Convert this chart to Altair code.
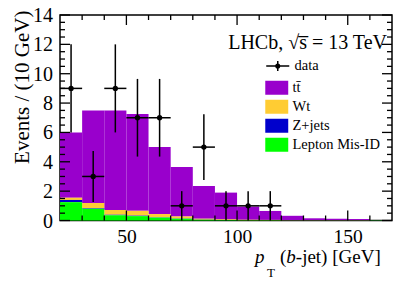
import altair as alt
import pandas as pd

# ---- data ----
bin_lo = [20, 30, 40, 50, 60, 70, 80, 90, 100, 110, 120, 130, 140, 150, 160]
bin_hi = [30, 40, 50, 60, 70, 80, 90, 100, 110, 120, 130, 140, 150, 160, 170]
misid = [1.25, 0.80, 0.35, 0.30, 0.20, 0.12, 0.05, 0.03, 0.02, 0.02, 0.01, 0.01, 0.01, 0.01, 0.02]
zjets = [0.15, 0.04, 0.05, 0.03, 0.02, 0.01, 0.01, 0.01, 0.0, 0.0, 0.0, 0.0, 0.0, 0.0, 0.0]
wt    = [0.15, 0.35, 0.32, 0.33, 0.22, 0.14, 0.06, 0.05, 0.03, 0.02, 0.01, 0.01, 0.01, 0.01, 0.0]
ttbar = [4.45, 6.31, 6.78, 6.59, 4.56, 3.38, 2.23, 1.81, 0.90, 0.61, 0.30, 0.13, 0.10, 0.08, 0.01]

data_x = [25, 35, 45, 55, 65, 75, 85, 95, 105, 115]
data_n = [9, 3, 9, 7, 7, 1, 5, 1, 1, 1]

proc_names = ["tt\u0304", "Wt", "Z+jets", "Lepton Mis-ID"]
proc_colors = ["#9900cc", "#ffcc33", "#0000cc", "#00ff00"]
stack_order = {"Lepton Mis-ID": 0, "Z+jets": 1, "Wt": 2, "tt\u0304": 3}

y_major = [0, 2, 4, 6, 8, 10, 12, 14]
y_minor = [v * 0.5 for v in range(1, 28) if v % 4]
x_major = [50, 100, 150]
x_minor = [v for v in range(30, 170, 10) if v not in x_major]

FONT = "Liberation Serif"
W, H = 332, 205.5
TMAJ, TMIN = 10, 5
YT = "Events / (10 GeV)"

# ---- tables ----
rows = []
for series, vals in zip(proc_names, [ttbar, wt, zjets, misid]):
    for lo, hi, v in zip(bin_lo, bin_hi, vals):
        rows.append({"lo": lo, "hi": hi, "value": v, "proc": series, "order": stack_order[series]})
bkg = pd.DataFrame(rows)
pts = pd.DataFrame({"x": data_x, "n": data_n, "lab": ["data"] * len(data_x)})

xscale = alt.Scale(domain=[20, 170], nice=False, zero=False)
yscale = alt.Scale(domain=[0, 14], nice=False)

rect_path = "M-1.64,-1L1.64,-1L1.64,1L-1.64,1Z"
data_path = ("M-1.92,0L1.92,0M0,-0.83L0,0.83"
             "M-0.3,0A0.3,0.3,0,1,0,0.3,0A0.3,0.3,0,1,0,-0.3,0Z"
             "M-0.12,0A0.12,0.12,0,1,0,0.12,0A0.12,0.12,0,1,0,-0.12,0Z")

bars = alt.Chart(bkg).transform_stack(
    stack="value", groupby=["lo"], as_=["y0", "y1"], sort=[alt.SortField("order", order="ascending")]
).mark_rect().encode(
    x=alt.X("lo:Q", scale=xscale, title=None, axis=alt.Axis(
        values=x_major, title=None, ticks=False, domain=False, grid=False, labelOverlap=False,
        labelFont=FONT, labelFontSize=19.5, labelPadding=7, labelColor="black")),
    x2="hi:Q",
    y=alt.Y("y0:Q", scale=yscale, title=YT, axis=alt.Axis(
        values=y_major, ticks=False, domain=False, grid=False, labels=False,
        title=YT, titleFont=FONT, titleFontSize=21, titleFontWeight="normal",
        titleColor="black", titleAngle=270, titleAlign="right", titleBaseline="middle",
        titleX=-38, titleY=-5)),
    y2="y1:Q",
    color=alt.Color("proc:N", scale=alt.Scale(domain=proc_names, range=proc_colors),
                    legend=alt.Legend(title=None, orient="none", legendX=209.5, legendY=65.5,
                                      symbolType=rect_path, symbolSize=196, symbolStrokeWidth=0,
                                      labelFont=FONT, labelFontSize=14.5, labelColor="black",
                                      labelOffset=8.5, rowPadding=3, padding=0)),
)

# y tick labels drawn through the y scale
ylabels = alt.Chart(pd.DataFrame({"v": y_major})).mark_text(
    font=FONT, fontSize=20, align="right", baseline="middle", color="black", dy=1
).encode(y=alt.Y("v:Q", scale=yscale), x=alt.value(-7), text=alt.Text("v:Q"))

vbars = alt.Chart(pts).transform_calculate(
    lo="datum.n - sqrt(datum.n)", hi="datum.n + sqrt(datum.n)"
).mark_rule(color="black", strokeWidth=1.5).encode(
    x=alt.X("x:Q", scale=xscale),
    y=alt.Y("lo:Q", scale=yscale), y2="hi:Q")

hbars = alt.Chart(pts).transform_calculate(
    xl="datum.x - 5", xh="datum.x + 5"
).mark_rule(color="black", strokeWidth=1.5).encode(
    x=alt.X("xl:Q", scale=xscale), x2="xh:Q",
    y=alt.Y("n:Q", scale=yscale))

dots = alt.Chart(pts).mark_point(filled=True, color="black", size=28, opacity=1).encode(
    x=alt.X("x:Q", scale=xscale),
    y=alt.Y("n:Q", scale=yscale))

# invisible layer that only carries the "data" legend entry
data_key = alt.Chart(pts).mark_point(filled=False, color="black", size=0, strokeWidth=1.5).encode(
    x=alt.X("x:Q", scale=xscale),
    y=alt.Y("n:Q", scale=yscale),
    shape=alt.Shape("lab:N", scale=alt.Scale(domain=["data"], range=[data_path]),
                    legend=alt.Legend(title=None, orient="none", legendX=210.5, legendY=43.7,
                                      symbolSize=144, symbolStrokeColor="black",
                                      symbolStrokeWidth=1.5, symbolOpacity=1,
                                      labelFont=FONT, labelFontSize=14.5, labelColor="black",
                                      labelOffset=9.5, padding=0)))

def ticks_y(vals, length):
    d = pd.DataFrame({"v": vals})
    left = alt.Chart(d).mark_rule(color="black", strokeWidth=1.3).encode(
        y=alt.Y("v:Q", scale=yscale), x=alt.value(0), x2=alt.value(length))
    right = alt.Chart(d).mark_rule(color="black", strokeWidth=1.3).encode(
        y=alt.Y("v:Q", scale=yscale), x=alt.value(W), x2=alt.value(W - length))
    return [left, right]

def ticks_x(vals, length):
    d = pd.DataFrame({"v": vals})
    bottom = alt.Chart(d).mark_rule(color="black", strokeWidth=1.3).encode(
        x=alt.X("v:Q", scale=xscale), y=alt.value(H), y2=alt.value(H - length))
    top = alt.Chart(d).mark_rule(color="black", strokeWidth=1.3).encode(
        x=alt.X("v:Q", scale=xscale), y=alt.value(0), y2=alt.value(length))
    return [bottom, top]

tick_layers = ticks_y(y_major, TMAJ) + ticks_y(y_minor, TMIN) + ticks_x(x_major, TMAJ) + ticks_x(x_minor, TMIN)

def label(txt, x, y, size=19, style="normal", align="left"):
    return alt.Chart(pd.DataFrame({"t": [txt]})).mark_text(
        font=FONT, fontSize=size, fontStyle=style, align=align, baseline="alphabetic", color="black"
    ).encode(text="t:N", x=alt.value(x), y=alt.value(y))

texts = [
    label("LHCb, \u221As\u0305 = 13 TeV", 327, 34, size=20, align="right"),
    label("p", 195, 247.5, style="italic"),
    label("T", 207, 261.5, size=13),
    label("(", 220, 247.5),
    label("b", 226.3, 247.5, style="italic"),
    label("-jet) [GeV]", 235.8, 247.5),
]

chart = alt.layer(bars, *tick_layers, ylabels, vbars, hbars, dots, data_key, *texts).properties(
    width=W, height=H,
    autosize=alt.AutoSizeParams(type="none"),
    padding={"left": 52, "top": 7, "right": 15, "bottom": 58},
    background="white",
).configure_view(stroke="black", strokeWidth=1.5)

chart.save("out.html", embed_options={"renderer": "svg", "actions": False})
